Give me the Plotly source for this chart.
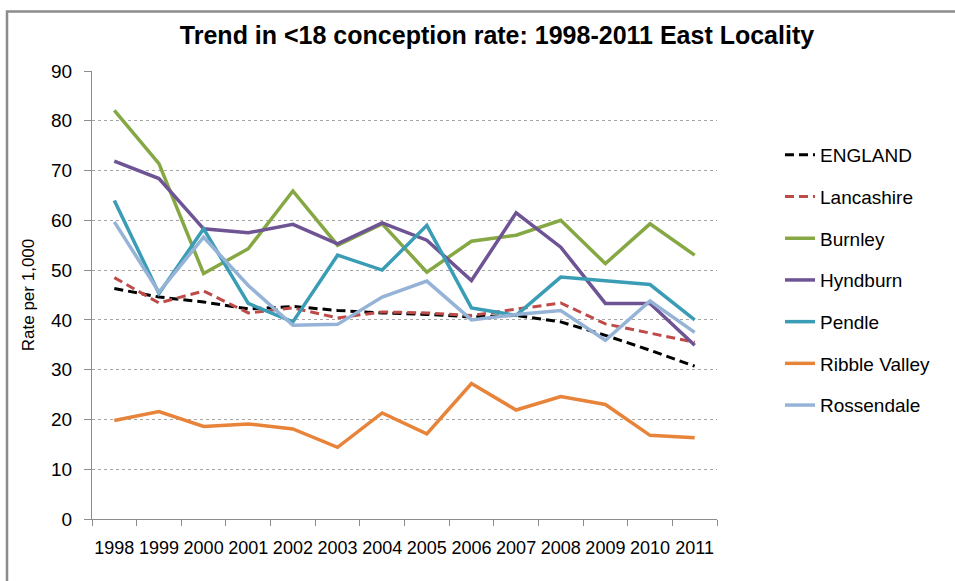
import plotly.graph_objects as go

years = ["1998", "1999", "2000", "2001", "2002", "2003", "2004",
         "2005", "2006", "2007", "2008", "2009", "2010", "2011"]

england = [46.3, 44.6, 43.6, 42.2, 42.7, 41.9, 41.4, 41.1, 40.6, 40.9, 39.6, 36.9, 33.9, 30.7]
lancashire = [48.5, 43.4, 45.8, 41.4, 42.4, 40.4, 41.6, 41.4, 40.9, 42.2, 43.4, 39.2, 37.4, 35.5]
burnley = [82.1, 71.4, 49.3, 54.3, 65.9, 55.0, 59.3, 49.6, 55.8, 57.0, 60.0, 51.3, 59.3, 53.0]
hyndburn = [71.9, 68.4, 58.3, 57.5, 59.2, 55.3, 59.5, 56.0, 47.9, 61.5, 54.6, 43.3, 43.3, 34.9]
pendle = [64.0, 45.3, 58.3, 43.3, 39.6, 53.0, 50.0, 59.0, 42.4, 40.9, 48.6, 47.8, 47.1, 40.0]
ribble_valley = [19.8, 21.6, 18.6, 19.1, 18.1, 14.4, 21.3, 17.1, 27.2, 21.9, 24.6, 23.0, 16.8, 16.3]
rossendale = [59.7, 45.6, 56.6, 46.9, 38.9, 39.1, 44.6, 47.8, 40.0, 41.1, 41.9, 35.9, 43.8, 37.5]

series = [
    ("ENGLAND", england, "#000000", "9px,5px", 3),
    ("Lancashire", lancashire, "#BE4B48", "9px,5px", 3),
    ("Burnley", burnley, "#86A844", "solid", 3.5),
    ("Hyndburn", hyndburn, "#6E5494", "solid", 3.5),
    ("Pendle", pendle, "#3A9DB5", "solid", 3.5),
    ("Ribble Valley", ribble_valley, "#E8833A", "solid", 3.5),
    ("Rossendale", rossendale, "#95B3D7", "solid", 3.5),
]

W, H = 955, 581
L, R, T, B = 92, 238, 71, 62

fig = go.Figure()
for i, (name, vals, color, dash, w) in enumerate(series):
    fig.add_trace(go.Scatter(
        x=years, y=vals, name=name, mode="lines",
        line=dict(color=color, width=w, dash=dash),
        legendgroup=f"g{i}",
    ))

font_family = "Liberation Sans, Arial"

pw = W - L - R
ph = H - T - B
def px_to_paper_x(px):
    return (px - L) / pw
def px_to_paper_y(py):
    return (H - B - py) / ph

fig.update_layout(
    width=W, height=H,
    margin=dict(l=L, r=R, t=T, b=B, autoexpand=False),
    paper_bgcolor="white", plot_bgcolor="white",
    title=dict(text="<b>Trend in &lt;18 conception rate: 1998-2011 East Locality</b>",
               x=497 / W, xref="container", xanchor="center",
               y=1 - 35 / H, yref="container", yanchor="middle",
               font=dict(family=font_family, size=25, color="#000000")),
    font=dict(family=font_family, color="#000000"),
    showlegend=True,
    legend=dict(
        x=px_to_paper_x(780), xanchor="left",
        y=px_to_paper_y(136), yanchor="top",
        font=dict(family=font_family, size=19, color="#000000"),
        tracegroupgap=14, bgcolor="rgba(0,0,0,0)",
    ),
    xaxis=dict(
        type="category", range=[-0.5, len(years) - 0.5],
        showgrid=False, showline=True, linecolor="#8C8C8C", linewidth=1,
        ticks="outside", ticklen=6, tickcolor="#8C8C8C", tickson="boundaries",
        tickangle=0, automargin=False,
        tickfont=dict(family=font_family, size=18, color="#000000"),
        ticklabelstandoff=12, zeroline=False,
    ),
    yaxis=dict(
        range=[0, 90], dtick=10, tick0=0, automargin=False,
        showgrid=True, gridcolor="#A6A6A6", griddash="dot", gridwidth=1,
        showline=True, linecolor="#8C8C8C", linewidth=1,
        ticks="outside", ticklen=7, tickcolor="#8C8C8C",
        tickfont=dict(family=font_family, size=19, color="#000000"),
        ticklabelstandoff=8, zeroline=False,
        title=dict(text="Rate per 1,000", standoff=12,
                   font=dict(family=font_family, size=17, color="#000000")),
    ),
)

# outer chart-area border (top and left edges visible in the reference)
fig.add_shape(type="rect", xref="paper", yref="paper", layer="above",
              x0=px_to_paper_x(7), x1=px_to_paper_x(990),
              y0=px_to_paper_y(11.5), y1=px_to_paper_y(610),
              line=dict(color="#8C8C8C", width=2.5), fillcolor="rgba(0,0,0,0)")

fig.write_html("out.html", config={"displayModeBar": False})

# remove the default page margin so the figure sits at the window origin
with open("out.html", "r", encoding="utf-8") as f:
    html = f.read()
html = html.replace("<body>", '<body style="margin:0;padding:0;overflow:hidden">', 1)
with open("out.html", "w", encoding="utf-8") as f:
    f.write(html)
